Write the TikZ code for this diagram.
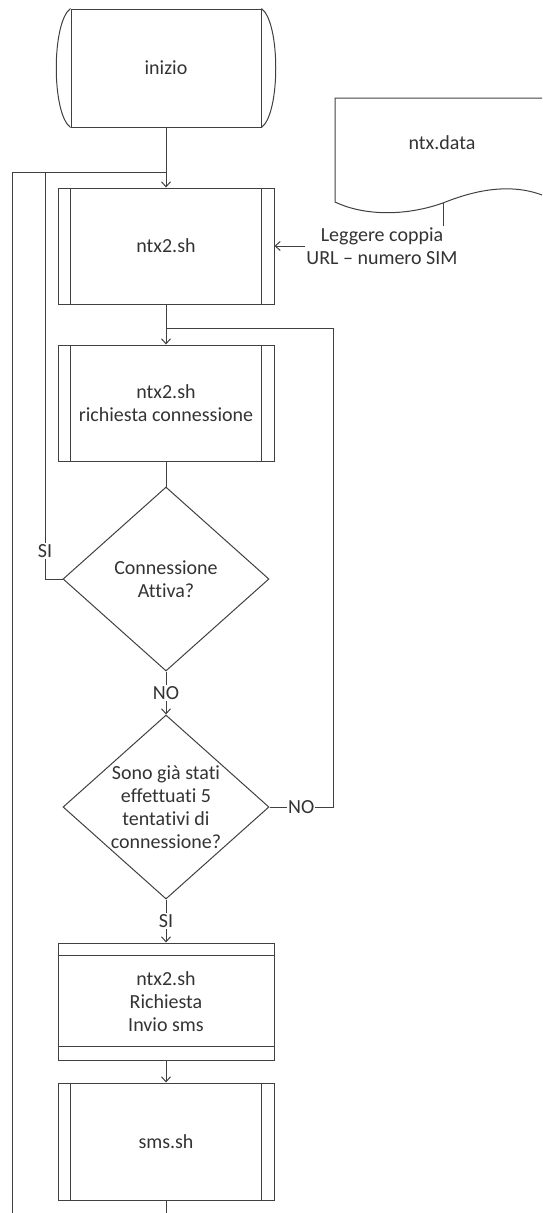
\documentclass[tikz,border=0pt]{standalone}
\usepackage{fontspec}
\setmainfont{Carlito}[Ligatures=NoCommon]
\usepackage{tikz}
\usetikzlibrary{calc, arrows.meta, shapes.geometric}

\begin{document}
\begin{tikzpicture}[x=1pt, y=-1pt, line width=1pt, color=black!75,
  every node/.style={font=\fontsize{20}{23}\selectfont, text=black!80, align=center},
  box/.style={draw, minimum width=216pt, minimum height=116pt, inner sep=0pt},
  term/.style={draw, minimum width=190pt, minimum height=118pt, inner sep=0pt},
  decision/.style={draw, diamond, aspect=1.12, minimum width=206pt, minimum height=184pt, inner sep=-2pt},
  lbl/.style={fill=white, inner sep=1pt},
  arr/.style={-{Straight Barb[length=5pt,width=9pt]}}]
  \useasboundingbox (0,0) rectangle (542,1213);

  \node[term] (start) at (166,68) {inizio};
  \node[box] (ntx) at (166,246) {ntx2.sh};
  \node[box] (conn) at (166,403) {ntx2.sh\\richiesta connessione};
  \node[decision] (act) at (166,579) {Connessione\\Attiva?};
  \node[decision] (tries) at (166,807) {Sono già stati\\effettuati 5\\tentativi di\\connessione?};
  \node[box, minimum height=117pt] (req) at (166,1001.5) {ntx2.sh\\Richiesta\\Invio sms};
  \node[box, minimum height=117pt] (sms) at (166,1141.5) {sms.sh};

  % lati curvi del terminatore
  \draw (start.north west) .. controls ($(start.north west)+(-19,14)$) and ($(start.south west)+(-19,-14)$) .. (start.south west);
  \draw (start.north east) .. controls ($(start.north east)+(19,14)$) and ($(start.south east)+(19,-14)$) .. (start.south east);

  % sottoprocessi
  \foreach \b in {ntx, conn, sms} {
    \draw ($(\b.north west)+(13,0)$) -- ($(\b.south west)+(13,0)$);
    \draw ($(\b.north east)+(-13,0)$) -- ($(\b.south east)+(-13,0)$);
  }
  \draw ($(req.north west)+(0,13)$) -- ($(req.north east)+(0,13)$);
  \draw ($(req.south west)+(0,-14)$) -- ($(req.south east)+(0,-14)$);

  % documento
  \node (data) at (442,143) {ntx.data};
  \draw (542,98) -- (335,98) -- (335,202)
    .. controls (360,214) and (400,218) .. (443,203)
    .. controls (475,190) and (510,183) .. (542,195);
  \coordinate (datatick) at (443,203);

  \coordinate (jtop) at (166,172);
  \coordinate (siturn) at (45,172);
  \coordinate (jmid) at (166,328);
  \coordinate (noturn) at (333,807);
  \coordinate (loopbot) at (12,1213);
  \coordinate (smsend) at (166,1213);

  \draw[arr] (start) -- (ntx);
  \draw[arr] (ntx) -- (conn);
  \draw (conn) -- (act);
  \draw[arr] (act) -- node[lbl] {NO} (tries);
  \draw[arr] (tries) -- node[lbl] {SI} (req);
  \draw[arr] (req) -- (sms);
  \draw (sms) -- (smsend);

  \draw (act.west) -| (siturn) -- (jtop);
  \node[lbl] (si) at (45,551) {SI};
  \draw (tries.east) -- node[lbl] {NO} (noturn) |- (jmid);
  \draw (loopbot) |- (jtop);

  \node[lbl] (read) at (382,246) {Leggere coppia\\URL – numero SIM};
  \draw (datatick) -- (datatick |- read.north);
  \draw[arr] (read) -- (ntx);
\end{tikzpicture}
\end{document}
